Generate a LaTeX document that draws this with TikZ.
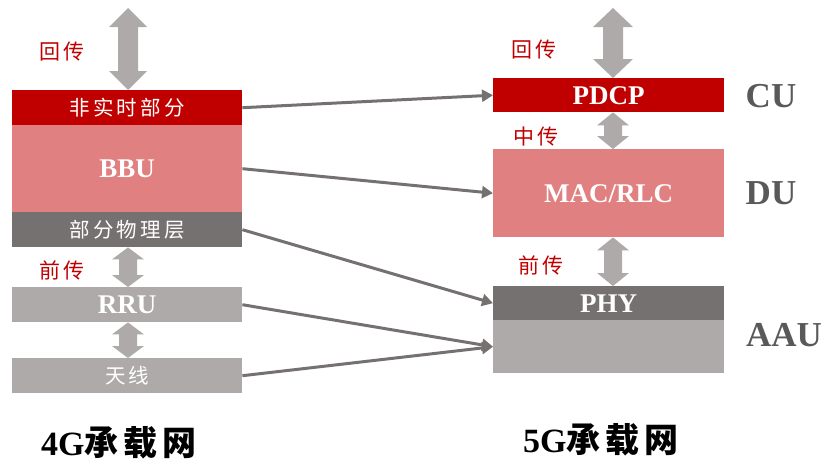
\documentclass[tikz,border=0pt]{standalone}
\usepackage{fontspec}
\setmainfont{Liberation Serif}
\newfontfamily\cjk[LetterSpace=15]{Noto Sans CJK SC}
\usetikzlibrary{arrows.meta,calc}
\definecolor{darkred}{HTML}{C00000}
\definecolor{pinkred}{HTML}{E08080}
\definecolor{darkgray}{HTML}{767171}
\definecolor{lightgray}{HTML}{AEAAAA}
\definecolor{labgray}{HTML}{595959}
\tikzset{
  box/.style={rectangle, inner sep=0pt, anchor=north west, text=white},
  latin/.style={font=\fontsize{27}{30}\selectfont\bfseries},
  cjkin/.style={font=\fontsize{20.5}{24}\selectfont\cjk},
  tlabel/.style={text=darkred, font=\fontsize{21}{24}\selectfont\cjk},
  side/.style={text=labgray, font=\fontsize{35}{38}\selectfont\bfseries},
  title/.style={font=\fontsize{34}{38}\selectfont\bfseries},
  conn/.style={draw=darkgray, line width=3pt, -{Triangle[length=11pt,width=12pt]}},
}
\newcommand\dblarr[5]{%
  \fill[lightgray] let \p1=(#1), \p2=(#2) in
    (\x1,\y1) -- (\x1+#3,\y1-#5) -- (\x1+#4,\y1-#5) -- (\x1+#4,\y2+#5) -- (\x1+#3,\y2+#5)
    -- (\x1,\y2) -- (\x1-#3,\y2+#5) -- (\x1-#4,\y2+#5) -- (\x1-#4,\y1-#5) -- (\x1-#3,\y1-#5) -- cycle;}
\begin{document}
\begin{tikzpicture}[x=1pt,y=-1pt]
\useasboundingbox (0,0) rectangle (832,463);
% left column
\node[box, fill=darkred, minimum width=230pt, minimum height=35pt, cjkin] (nrt) at (12,90) {非实时部分};
\node[box, fill=pinkred, minimum width=230pt, minimum height=87pt, latin] (bbu) at (12,125) {BBU};
\node[box, fill=darkgray, minimum width=230pt, minimum height=35pt, cjkin] (phyl) at (12,212) {部分物理层};
\node[box, fill=lightgray, minimum width=230pt, minimum height=35pt, latin] (rru) at (12,287) {RRU};
\node[box, fill=lightgray, minimum width=230pt, minimum height=35pt, cjkin] (ant) at (12,358) {天线};
% right column
\node[box, fill=darkred, minimum width=231pt, minimum height=34pt, latin] (pdcp) at (493,78) {PDCP};
\node[box, fill=pinkred, minimum width=231pt, minimum height=88pt, latin] (mac) at (493,149) {MAC/RLC};
\node[box, fill=darkgray, minimum width=231pt, minimum height=34pt, latin] (phy) at (493,286) {PHY};
\node[box, fill=lightgray, minimum width=231pt, minimum height=53pt] (aau) at (493,320) {};
% block arrows
\coordinate (ltop) at (128,8);
\coordinate (rtop) at (613,8);
\dblarr{ltop}{nrt.north}{19pt}{10pt}{19pt}
\dblarr{phyl.south -| ltop}{rru.north}{16pt}{9pt}{12pt}
\dblarr{rru.south -| ltop}{ant.north}{16pt}{9pt}{12pt}
\dblarr{rtop}{pdcp.north}{20pt}{10pt}{19pt}
\dblarr{pdcp.south -| rtop}{mac.north}{16pt}{9pt}{13pt}
\dblarr{mac.south -| rtop}{phy.north}{16pt}{9pt}{13pt}
% labels
\node[tlabel] (l1) at (62,52) {回传};
\node[tlabel] (l2) at (62,270) {前传};
\node[tlabel] (r1) at (534,50) {回传};
\node[tlabel] (r2) at (536,137) {中传};
\node[tlabel] (r3) at (541,265) {前传};
\node[side] (cu) at (771,96) {CU};
\node[side] (du) at (771,193) {DU};
\node[side] (aaul) at (784,335) {AAU};
\node[title] (t4) at (119,443) {4G{\cjk\bfseries 承载网}};
\node[title] (t5) at (601,440) {5G{\cjk\bfseries 承载网}};
% connectors
\draw[conn] (nrt.east) -- (pdcp.west);
\draw[conn] (bbu.east) -- (mac.west);
\draw[conn] (phyl.east) -- (phy.west);
\draw[conn] (rru.east) -- (aau.west);
\draw[conn] (ant.east) -- (aau.west);
\end{tikzpicture}
\end{document}
